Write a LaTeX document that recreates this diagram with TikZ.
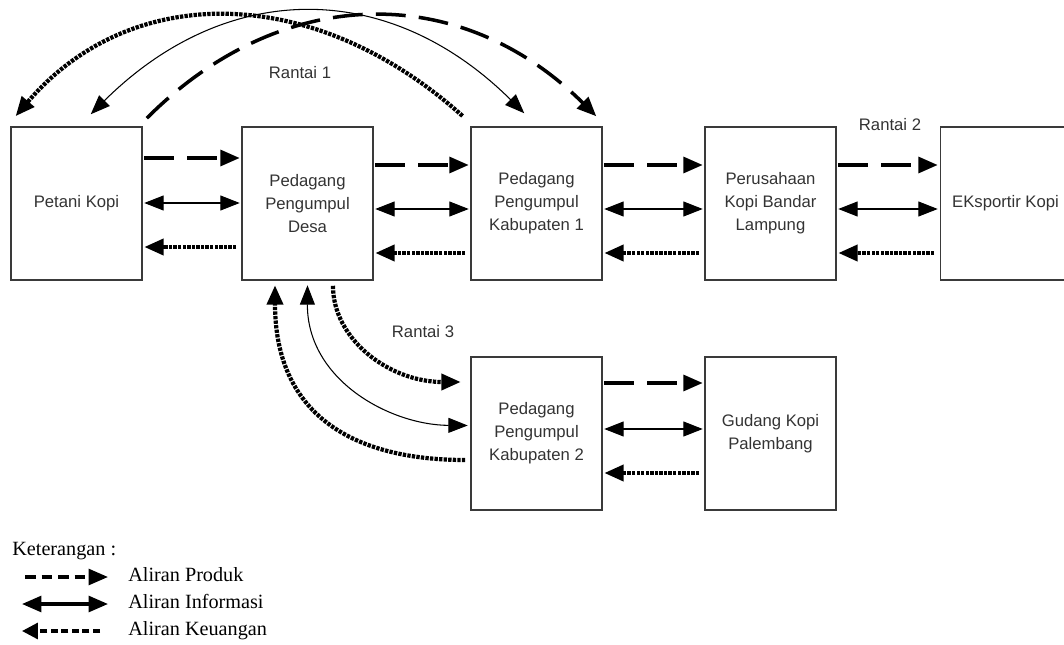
\documentclass[tikz,border=0pt]{standalone}
\usepackage{fontspec}
\setmainfont{Liberation Sans}
\newfontfamily\legendfont{Liberation Serif}
\usepackage{tikz}
\usetikzlibrary{arrows.meta}
\definecolor{BoxInk}{HTML}{3A3A3A}
\definecolor{TextInk}{HTML}{333333}

\begin{document}
\begin{tikzpicture}[x=0.02cm, y=-0.02cm,
  kotak/.style={draw=BoxInk, line width=0.6pt, minimum width=2.62cm,
                minimum height=3.06cm, align=center, text=TextInk,
                font=\fontsize{9.5}{13}\selectfont, inner sep=2pt},
  rantai/.style={text=TextInk, font=\fontsize{9.5}{13}\selectfont},
  produk/.style={-{Triangle[length=11pt,width=9pt]}, line width=2pt,
                 dash pattern=on 17pt off 7.5pt, shorten >=1pt, shorten <=1pt},
  info/.style={{Triangle[length=11pt,width=8.5pt]}-{Triangle[length=11pt,width=8.5pt]},
               line width=0.6pt, shorten >=1pt, shorten <=1pt},
  uang/.style={-{Triangle[length=11pt,width=9pt]}, line width=2.4pt,
               dash pattern=on 1.9pt off 0.7pt, shorten >=1pt, shorten <=3pt},
  keterangan/.style={font=\legendfont\fontsize{11.5}{13}\selectfont,
                     anchor=base west, inner sep=0pt}
]
\useasboundingbox (0,0) rectangle (1064,645);

\node[kotak] (petani) at (76.5,203.5) {Petani Kopi};
\node[kotak] (desa) at (307.5,203.5) {Pedagang\\Pengumpul\\Desa};
\node[kotak] (kab1) at (536.5,203.5) {Pedagang\\Pengumpul\\Kabupaten 1};
\node[kotak] (bandar) at (770.5,203.5) {Perusahaan\\Kopi Bandar\\Lampung};
\node[kotak] (ekspor) at (1005.5,203.5) {EKsportir Kopi};
\node[kotak] (kab2) at (536.5,433.5) {Pedagang\\Pengumpul\\Kabupaten 2};
\node[kotak] (gudang) at (770.5,433.5) {Gudang Kopi\\Palembang};

\node[rantai] (r1) at (300,73) {Rantai 1};
\node[rantai] (r2) at (890,125) {Rantai 2};
\node[rantai] (r3) at (423,332) {Rantai 3};

\draw[produk] (petani.east |- 0,158) -- (desa.west |- 0,158);
\draw[info] (petani.east |- 0,203) -- (desa.west |- 0,203);
\draw[uang] (desa.west |- 0,247) -- (petani.east |- 0,247);
\draw[produk] (desa.east |- 0,165) -- (kab1.west |- 0,165);
\draw[info] (desa.east |- 0,209) -- (kab1.west |- 0,209);
\draw[uang] (kab1.west |- 0,253) -- (desa.east |- 0,253);
\draw[produk] (kab1.east |- 0,165) -- (bandar.west |- 0,165);
\draw[info] (kab1.east |- 0,209) -- (bandar.west |- 0,209);
\draw[uang] (bandar.west |- 0,253) -- (kab1.east |- 0,253);
\draw[produk] (bandar.east |- 0,165) -- (ekspor.west |- 0,165);
\draw[info] (bandar.east |- 0,209) -- (ekspor.west |- 0,209);
\draw[uang] (ekspor.west |- 0,253) -- (bandar.east |- 0,253);
\draw[produk] (kab2.east |- 0,383) -- (gudang.west |- 0,383);
\draw[info] (kab2.east |- 0,429) -- (gudang.west |- 0,429);
\draw[uang] (gudang.west |- 0,473) -- (kab2.east |- 0,473);

\draw[uang] ([shift={(-4,-7)}]kab1.north west)
  .. controls (313,-18) and (130,-18) .. ([shift={(4,-9)}]petani.north west);
\draw[info] ([shift={(79,-11)}]petani.north west)
  .. controls (227,-21) and (389,-21) .. ([shift={(-77,-12)}]kab1.north east);
\draw[produk] ([shift={(3,-7)}]petani.north east)
  .. controls (283,-18) and (461,-18) .. ([shift={(-5,-9)}]kab1.north east);

\draw[uang] ([shift={(0,26.5)}]kab2.west)
  .. controls (360,460) and (275,420) .. ([shift={(-32.5,3)}]desa.south);
\draw[info] ([shift={(0,3)}]desa.south)
  .. controls (307,380) and (390,425) .. ([shift={(-1,-8)}]kab2.west);
\draw[uang] ([shift={(25.5,0)}]desa.south)
  .. controls (333,340) and (390,382) .. ([shift={(-8,-51.5)}]kab2.west);

\node[keterangan] (ket) at (12,555) {Keterangan :};
\node[keterangan] (lprod) at (128,581) {Aliran Produk};
\node[keterangan] (linfo) at (128,608) {Aliran Informasi};
\node[keterangan] (luang) at (128,635) {Aliran Keuangan};
\coordinate (p1) at (25,577);
\coordinate (p2) at (108,577);
\coordinate (i1) at (22,604);
\coordinate (i2) at (108,604);
\coordinate (u1) at (100,631);
\coordinate (u2) at (22,631);
\draw[line width=1.8pt, dash pattern=on 6pt off 3.4pt,
      -{Triangle[length=11pt,width=9pt]}] (p1) -- (p2);
\draw[line width=1.8pt, {Triangle[length=11pt,width=9pt]}-{Triangle[length=11pt,width=9pt]}]
  (i1) -- (i2);
\draw[line width=1.8pt, dash pattern=on 4pt off 2pt,
      -{Triangle[length=9pt,width=9pt]}] (u1) -- (u2);
\end{tikzpicture}
\end{document}
